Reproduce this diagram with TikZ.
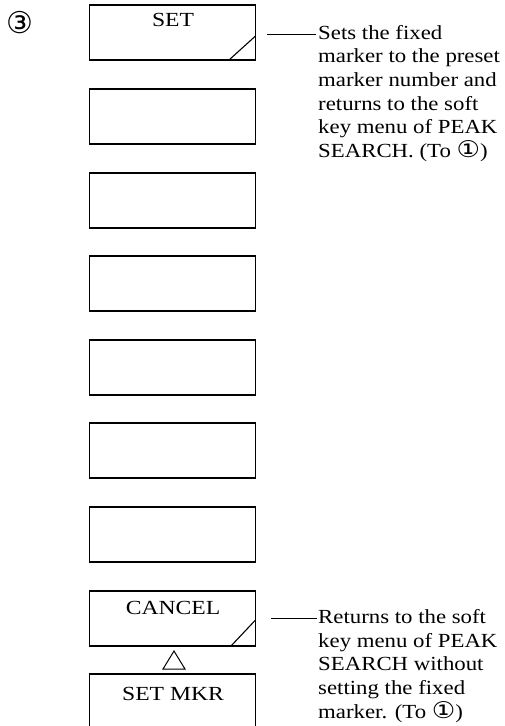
\documentclass[tikz,border=0pt]{standalone}
\usepackage{fontspec}
\setmainfont{Liberation Serif}
\newfontfamily\symfont{DejaVu Sans}
\newcommand{\circone}{{\symfont\fontsize{23}{23}\selectfont ①}}
\begin{document}
\begin{tikzpicture}[x=1pt,y=-1pt,
  keybox/.style={draw,line width=1.3pt},
  keytext/.style={font=\fontsize{20}{23.5}\selectfont,inner sep=0pt,anchor=base,xscale=1.18},
  note/.style={font=\fontsize{20}{23.7}\selectfont,inner sep=0pt,align=left,anchor=base west,xscale=1.14},
  lead/.style={line width=1pt}]
\useasboundingbox (0,0) rectangle (505,726);
% circled label
\node[inner sep=0pt,font=\symfont\fontsize{30}{30}\selectfont] (num) at (20,23) {③};
% boxes
\foreach \i/\t in {1/5,2/89,3/173,4/256,5/340,6/423,7/507,8/591}{
  \draw[keybox] (89.5,\t) rectangle (255.5,\t+55) coordinate (b\i);
  \coordinate (k\i) at (89.5,\t);
}
% corner marks
\draw[line width=1.1pt] (229,60) -- (255.5,36);
\draw[line width=1.1pt] (231,646) -- (255.5,620);
% key labels
\node[keytext] (set) at (173,26.5) {SET};
\node[keytext] (cancel) at (173,614) {CANCEL};
% triangle
\coordinate (ta) at (174,651);
\coordinate (tb) at (163,669);
\coordinate (tc) at (185,669);
\draw[line width=1pt,line join=miter] (ta) -- (tb) -- (tc) -- cycle;
% SET MKR box (open bottom)
\draw[keybox] (89.5,730) -- (89.5,674) -- (255.5,674) -- (255.5,730);
\node[keytext] (setmkr) at (173,700) {SET MKR};
% annotations
\node[note] (n1) at (318,39+5*23.7) {Sets the fixed\\marker to the preset\\marker number and\\returns to the soft\\key menu of PEAK\\SEARCH. (To \circone)};
\coordinate (l1a) at (267,34);
\draw[lead] (l1a) -- (316,34);
\node[note] (n2) at (318,625+4*23.3) {Returns to the soft\\key menu of PEAK\\SEARCH without\\setting the fixed\\marker. (To \circone)};
\coordinate (l2a) at (271,618);
\draw[lead] (l2a) -- (317,618);
\end{tikzpicture}
\end{document}
